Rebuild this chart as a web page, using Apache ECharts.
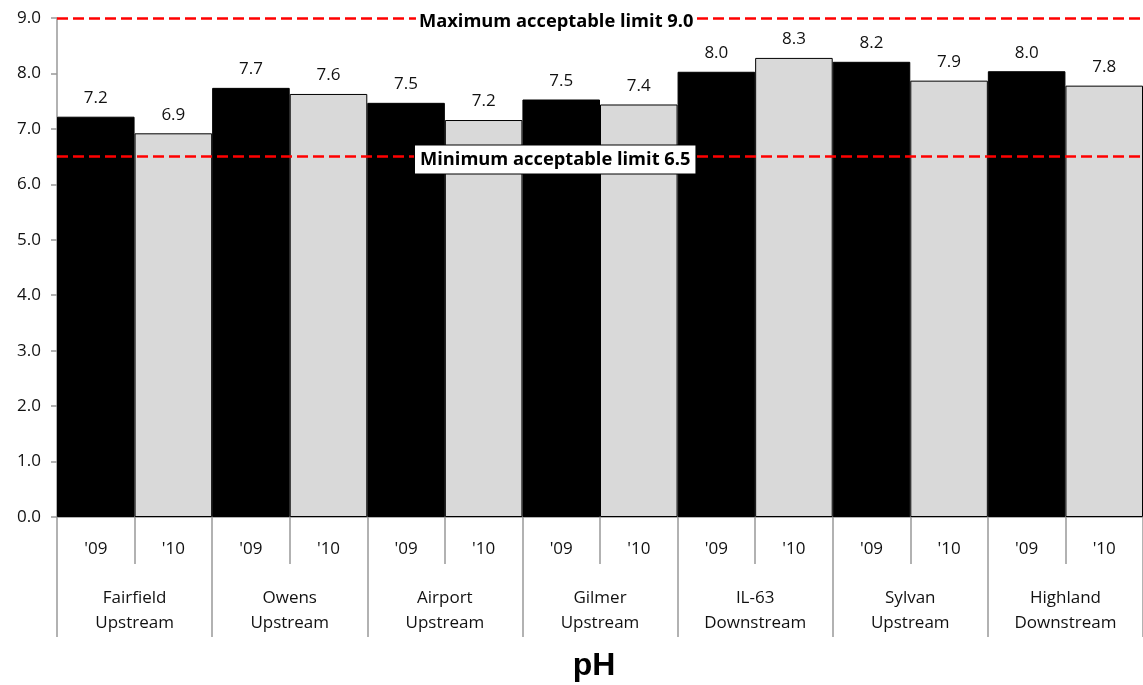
<!DOCTYPE html>
<html><head><meta charset="utf-8">
<script src="https://cdn.jsdelivr.net/npm/echarts@6/dist/echarts.min.js"></script>
<style>html,body{margin:0;padding:0;background:#fff}#c{width:1143px;height:685px}</style>
</head><body><div id="c"></div>
<script>
var sites = ['Fairfield Upstream','Owens Upstream','Airport Upstream','Gilmer Upstream','IL-63 Downstream','Sylvan Upstream','Highland Downstream'];
var years = ["'09","'10"];
var ph2009 = [7.22, 7.74, 7.47, 7.53, 8.03, 8.21, 8.04];
var ph2010 = [6.92, 7.63, 7.16, 7.44, 8.28, 7.87, 7.78];
var yTicks = [0,1,2,3,4,5,6,7,8,9];
var limits = [9.0, 6.5];
var limitLabels = ['Maximum acceptable limit 9.0','Minimum acceptable limit 6.5'];

var FONT = 'Open Sans';
var cats = [], barData = [];
sites.forEach(function(s,i){
  cats.push(years[0]); barData.push({value: ph2009[i], itemStyle:{color:'#000000', borderColor:'#000000', borderWidth:1}});
  cats.push(years[1]); barData.push({value: ph2010[i], itemStyle:{color:'#d9d9d9', borderColor:'#000000', borderWidth:1}});
});

var chart = echarts.init(document.getElementById('c'), null, {renderer:'canvas'});
chart.setOption({
  animation:false,
  textStyle:{fontFamily:FONT},
  title:{text:'pH', left:589, top:645, textAlign:'center',
    textStyle:{fontFamily:'Liberation Sans', fontWeight:'bold', fontSize:32, color:'#000'}},
  grid:{left:57, right:0, top:18, bottom:168, containLabel:false},
  xAxis:[{
    type:'category', data:cats, position:'bottom',
    axisLine:{show:true, lineStyle:{color:'#999', width:1.5}},
    axisTick:{show:true, interval:0, length:47, lineStyle:{color:'#999', width:1.5}},
    axisLabel:{interval:0, margin:24, fontFamily:FONT, fontSize:17, color:'#111'}
  },{
    type:'category', data:sites, position:'bottom', gridIndex:0,
    axisLine:{show:false},
    axisTick:{show:true, interval:0, length:120, lineStyle:{color:'#999', width:1.5}},
    axisLabel:{interval:0, margin:69, fontFamily:FONT, fontSize:17, color:'#111', lineHeight:25,
      formatter:function(v){return v.replace(' ','\n');}}
  }],
  yAxis:{
    type:'value', min:yTicks[0], max:yTicks[yTicks.length-1], interval:1,
    axisLine:{show:true, lineStyle:{color:'#999', width:1.5}},
    axisTick:{show:true, length:6, lineStyle:{color:'#999', width:1.5}},
    splitLine:{show:false},
    axisLabel:{margin:16, fontFamily:FONT, fontSize:17, color:'#111',
      formatter:function(v){return v.toFixed(1);}}
  },
  series:[{
    type:'bar', data:barData, barWidth:'100%', barCategoryGap:0,
    label:{show:true, position:'top', distance:10, fontFamily:FONT, fontSize:17, color:'#111',
      formatter:function(p){return p.value.toFixed(1);}},
    markLine:{silent:true, symbol:'none', z:5,
      lineStyle:{color:'#ff0000', type:[11,5], width:2.5},
      label:{show:false},
      data: limits.map(function(v){return {yAxis:v};})},
    markPoint:{silent:true, z:10, symbol:'rect', symbolSize:1, itemStyle:{color:'rgba(0,0,0,0)'},
      data:[
        {coord:[6, limits[0]], label:{show:true, position:'inside', offset:[-5,4], formatter:limitLabels[0],
          fontFamily:FONT, fontWeight:'bold', fontSize:18.3, color:'#000', backgroundColor:'#fff', padding:[0,3]}},
        {coord:[6, limits[1]], label:{show:true, position:'inside', offset:[-6,3], formatter:limitLabels[1],
          fontFamily:FONT, fontWeight:'bold', fontSize:18.3, color:'#000', backgroundColor:'#fff',
          borderColor:'#000', borderWidth:1, padding:[5,5]}}
      ]}
  }]
});
</script></body></html>
